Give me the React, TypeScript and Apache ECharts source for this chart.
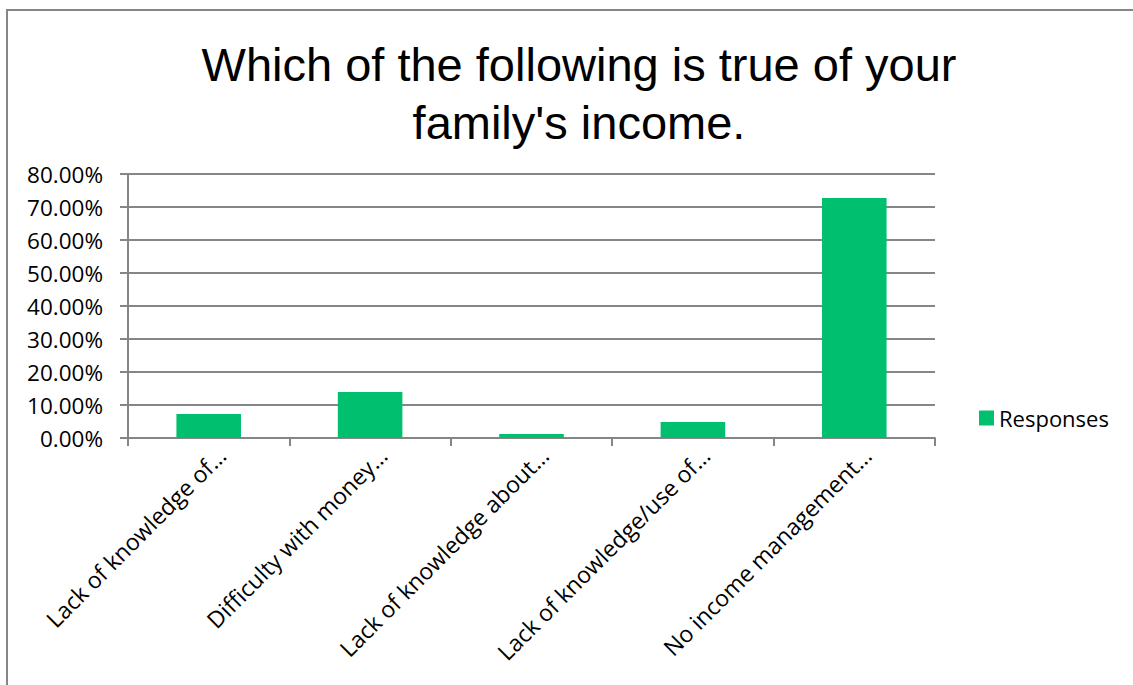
import React, { useEffect, useRef } from "react";
import * as echarts from "echarts";

const TITLE = "Which of the following is true of your\nfamily's income.";
const categories = [
  "Lack of knowledge of…",
  "Difficulty with money…",
  "Lack of knowledge about…",
  "Lack of knowledge/use of…",
  "No income management…",
];
const seriesName = "Responses";
const responses = [7.27, 13.94, 1.21, 4.85, 72.73];
const yTicks = { min: 0, max: 80, interval: 10 };

export default function App() {
  const ref = useRef<HTMLDivElement>(null);
  useEffect(() => {
    if (!ref.current) return;
    const chart = echarts.init(ref.current, undefined, { renderer: "svg" });
    const gray = "#868686";
    const labelFont = "'Open Sans', Calibri, sans-serif";
    chart.setOption({
      animation: false,
      backgroundColor: "#ffffff",
      title: {
        text: TITLE,
        left: 574,
        top: 30,
        textAlign: "center",
        textStyle: {
          fontFamily: "'Liberation Sans', Arial, sans-serif",
          fontSize: 47,
          fontWeight: "normal",
          color: "#000",
          lineHeight: 58,
        },
      },
      graphic: [
        {
          type: "rect",
          shape: { x: 7, y: 10, width: 1140, height: 700 },
          style: { fill: "none", stroke: gray, lineWidth: 2 },
          silent: true,
        },
      ],
      legend: {
        left: 974,
        top: 402,
        itemWidth: 15,
        itemHeight: 15,
        itemGap: 8,
        icon: "rect",
        textStyle: { fontFamily: labelFont, fontSize: 22, color: "#000" },
        data: [seriesName],
      },
      grid: { left: 128, right: 198, top: 174, bottom: 247, containLabel: false },
      xAxis: {
        type: "category",
        data: categories,
        axisLine: { lineStyle: { color: gray, width: 2 } },
        axisTick: { show: true, length: 8, lineStyle: { color: gray, width: 2 } },
        axisLabel: {
          rotate: 45,
          interval: 0,
          margin: 26,
          padding: [0, -18, 0, 0],
          fontFamily: labelFont,
          fontSize: 23,
          color: "#000",
        },
      },
      yAxis: {
        type: "value",
        min: yTicks.min,
        max: yTicks.max,
        interval: yTicks.interval,
        axisLine: { show: true, lineStyle: { color: gray, width: 2 } },
        axisTick: { show: true, length: 8, lineStyle: { color: gray, width: 2 } },
        splitLine: { show: true, lineStyle: { color: gray, width: 2 } },
        axisLabel: {
          margin: 25,
          fontFamily: labelFont,
          fontSize: 22.5,
          color: "#000",
          formatter: (v: number) => v.toFixed(2) + "%",
        },
      },
      series: [
        {
          name: seriesName,
          type: "bar",
          data: responses,
          barWidth: "40%",
          itemStyle: { color: "#00BF6F" },
        },
      ],
    });
    return () => chart.dispose();
  }, []);
  return (
    <div
      ref={ref}
      style={{ position: "fixed", left: 0, top: 0, width: 1133, height: 685 }}
    />
  );
}
